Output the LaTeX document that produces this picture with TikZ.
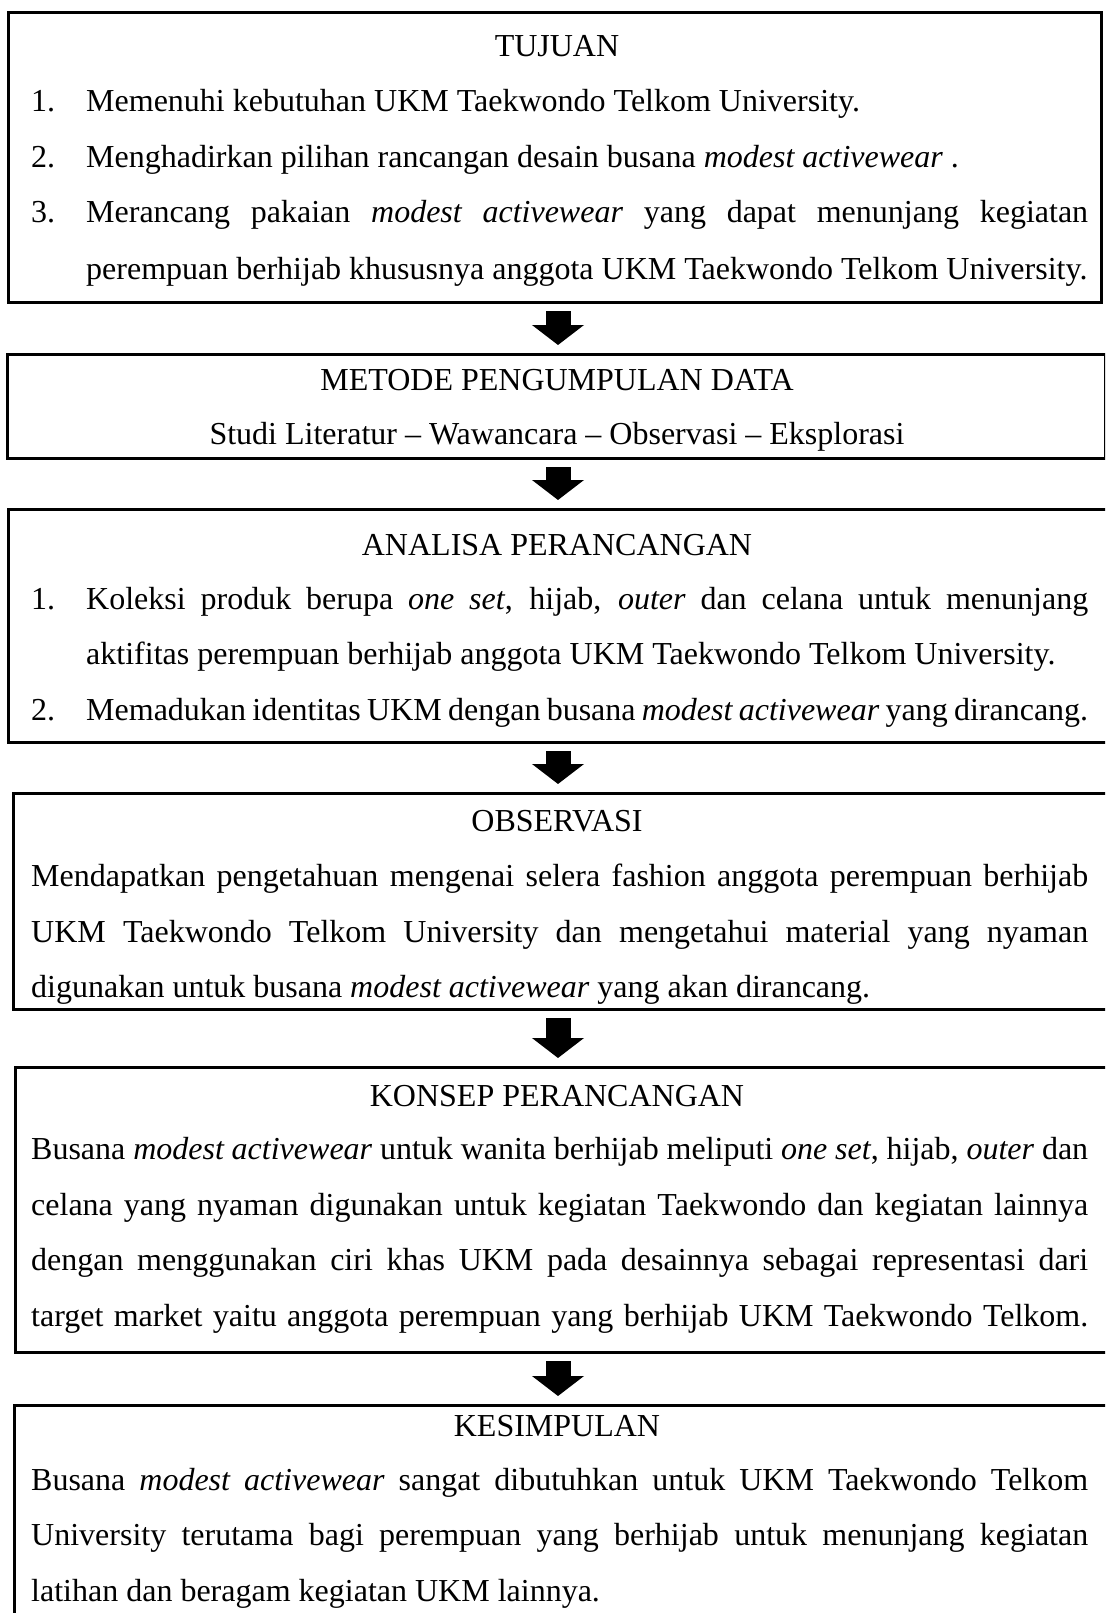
\documentclass[tikz,border=0pt]{standalone}
\usepackage{fontspec}
\setmainfont{Liberation Serif}
\usetikzlibrary{arrows.meta}
\newcommand\JustA[1]{\hbox to 1002pt{#1}}
\newcommand\JustB[1]{\hbox to 1057pt{#1}}
\tikzset{
  box/.style={draw=black, line width=3pt, inner sep=0pt, anchor=north west},
  txt/.style={inner sep=0pt, anchor=base west, font=\fontsize{32}{38}\selectfont},
  ttl/.style={inner sep=0pt, anchor=base, font=\fontsize{32}{38}\selectfont},
  blockarr/.style={line width=25pt, -{Triangle[width=51pt,length=20pt]}, shorten <=7pt, shorten >=8pt}
}
\begin{document}
\begin{tikzpicture}[x=1pt,y=-1pt]
\clip (0,0) rectangle (1105,1613);
\fill[white] (0,0) rectangle (1105,1613);
% boxes
\node[box, minimum width=1093pt, minimum height=290pt] (b1) at (7,11) {};
\node[box, minimum width=1098pt, minimum height=104pt] (b2) at (6,353) {};
\node[box, minimum width=1105pt, minimum height=233pt] (b3) at (7,508) {};
\node[box, minimum width=1100pt, minimum height=216pt] (b4) at (12,792) {};
\node[box, minimum width=1098pt, minimum height=285pt] (b5) at (14,1066) {};
\node[box, minimum width=1100pt, minimum height=230pt] (b6) at (13,1404) {};
% arrows
\coordinate (ax) at (558,0);
\draw[blockarr] (ax |- b1.south) -- (ax |- b2.north);
\draw[blockarr] (ax |- b2.south) -- (ax |- b3.north);
\draw[blockarr] (ax |- b3.south) -- (ax |- b4.north);
\draw[blockarr] (ax |- b4.south) -- (ax |- b5.north);
\draw[blockarr] (ax |- b5.south) -- (ax |- b6.north);
% box 1
\node[ttl] (t1) at (557,57) {TUJUAN};
\node[txt] (n11) at (31,112) {1.};
\node[txt] (l11) at (86,112) {Memenuhi kebutuhan UKM Taekwondo Telkom University.};
\node[txt] (n12) at (31,168) {2.};
\node[txt] (l12) at (86,168) {Menghadirkan pilihan rancangan desain busana \textit{modest activewear} .};
\node[txt] (n13) at (31,223) {3.};
\node[txt] (l13) at (86,223) {\JustA{Merancang pakaian \textit{modest activewear} yang dapat menunjang kegiatan}};
\node[txt] (l14) at (86,279) {perempuan berhijab khususnya anggota UKM Taekwondo Telkom University.};
% box 2
\node[ttl] (t2) at (557,390) {METODE PENGUMPULAN DATA};
\node[ttl] (l21) at (557,444) {Studi Literatur – Wawancara – Observasi – Eksplorasi};
% box 3
\node[ttl] (t3) at (557,555) {ANALISA PERANCANGAN};
\node[txt] (n31) at (31,609) {1.};
\node[txt] (l31) at (86,609) {\JustA{Koleksi produk berupa \textit{one set}, hijab, \textit{outer} dan celana untuk menunjang}};
\node[txt] (l32) at (86,664) {aktifitas perempuan berhijab anggota UKM Taekwondo Telkom University.};
\node[txt] (n32) at (31,720) {2.};
\node[txt] (l33) at (86,720) {\JustA{Memadukan identitas UKM dengan busana \textit{modest activewear} yang dirancang.}};
% box 4
\node[ttl] (t4) at (557,831) {OBSERVASI};
\node[txt] (l41) at (31,886) {\JustB{Mendapatkan pengetahuan mengenai selera fashion anggota perempuan berhijab}};
\node[txt] (l42) at (31,942) {\JustB{UKM Taekwondo Telkom University dan mengetahui material yang nyaman}};
\node[txt] (l43) at (31,997) {digunakan untuk busana \textit{modest activewear} yang akan dirancang.};
% box 5
\node[ttl] (t5) at (557,1106) {KONSEP PERANCANGAN};
\node[txt] (l51) at (31,1159) {\JustB{Busana \textit{modest activewear} untuk wanita berhijab meliputi \textit{one set}, hijab, \textit{outer} dan}};
\node[txt] (l52) at (31,1215) {\JustB{celana yang nyaman digunakan untuk kegiatan Taekwondo dan kegiatan lainnya}};
\node[txt] (l53) at (31,1270) {\JustB{dengan menggunakan ciri khas UKM pada desainnya sebagai representasi dari}};
\node[txt] (l54) at (31,1326) {\JustB{target market yaitu anggota perempuan yang berhijab UKM Taekwondo Telkom.}};
% box 6
\node[ttl] (t6) at (557,1436) {KESIMPULAN};
\node[txt] (l61) at (31,1490) {\JustB{Busana \textit{modest activewear} sangat dibutuhkan untuk UKM Taekwondo Telkom}};
\node[txt] (l62) at (31,1545) {\JustB{University terutama bagi perempuan yang berhijab untuk menunjang kegiatan}};
\node[txt] (l63) at (31,1601) {latihan dan beragam kegiatan UKM lainnya.};
\end{tikzpicture}
\end{document}
